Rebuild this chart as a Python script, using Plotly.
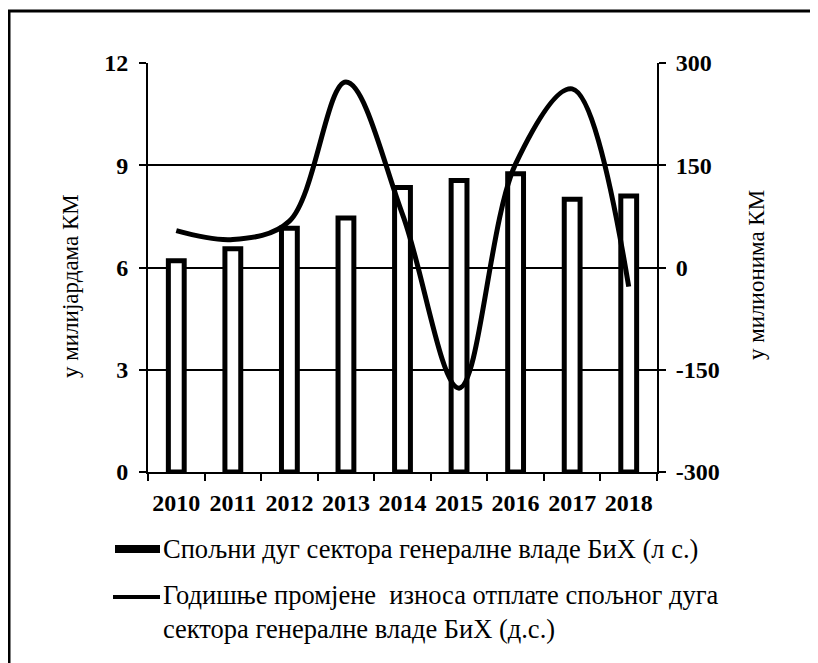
import plotly.graph_objects as go

years = ["2010", "2011", "2012", "2013", "2014", "2015", "2016", "2017", "2018"]
debt_bn = [6.2, 6.55, 7.15, 7.45, 8.35, 8.55, 8.75, 8.0, 8.1]
repay_change_mn = [54, 41, 68, 272, 78, -177, 152, 262, -28]

left_ticks = [0, 3, 6, 9, 12]
right_ticks = [-300, -150, 0, 150, 300]
right_tick_labels = ["-300", "-150", "0", "150", "300"]

legend_bar = "Спољни дуг сектора генералне владе БиХ (л с.)"
legend_line = "Годишње промјене  износа отплате спољног дуга<br>сектора генералне владе БиХ (д.с.)"
title_left = "у милијардама КМ"
title_right = "у милионима КМ"

# page body has an 8px margin; work in screen pixels and convert
OFF = 8
W, H = 818 - OFF, 663 - OFF
PL, PR, PT, PB = 148, 657, 63, 472  # plot area in screen px
L, R, T, B = PL - OFF, W - (PR - OFF), PT - OFF, H - (PB - OFF)
pw, ph = W - L - R, H - T - B

def px(x):
    return (x - OFF - L) / pw

def py(y):
    return (H - B - (y - OFF)) / ph

serif = "Liberation Serif, Times New Roman, serif"
tfont = dict(family=serif, size=24, color="black", weight="bold")
txtfont = dict(family=serif, size=26.5, color="black")
titlefont = dict(family=serif, size=23, color="black")

fig = go.Figure()
fig.add_trace(go.Bar(
    x=years, y=debt_bn, width=0.28,
    marker=dict(color="white", line=dict(color="black", width=5)),
    yaxis="y", showlegend=False,
))
fig.add_trace(go.Scatter(
    x=years, y=repay_change_mn, mode="lines",
    line=dict(color="black", width=5, shape="spline", smoothing=1.0),
    yaxis="y2", showlegend=False,
))

axis_common = dict(showline=True, linecolor="black", linewidth=2,
                   ticks="outside", ticklen=7, tickwidth=2, tickcolor="black",
                   zeroline=False, tickfont=tfont)

fig.update_layout(
    width=W, height=H,
    margin=dict(l=L, r=R, t=T, b=B, pad=0),
    paper_bgcolor="white", plot_bgcolor="white",
    xaxis=dict(type="category", tickson="boundaries", showgrid=False, tickangle=0,
               ticklabelstandoff=8, **axis_common),
    yaxis=dict(range=[0, 12], tickvals=left_ticks, showgrid=True, gridcolor="black",
               gridwidth=2, ticklabelstandoff=6, **axis_common),
    yaxis2=dict(range=[-300, 300], tickvals=right_ticks, ticktext=right_tick_labels,
                overlaying="y", side="right",
                showgrid=False, ticklabelstandoff=5, **axis_common),
)

# axis titles
fig.add_annotation(text=title_left, xref="paper", yref="paper", x=px(70), y=py(286),
                   textangle=-90, showarrow=False, xanchor="center", yanchor="middle",
                   font=titlefont)
fig.add_annotation(text=title_right, xref="paper", yref="paper", x=px(756), y=py(275),
                   textangle=-90, showarrow=False, xanchor="center", yanchor="middle",
                   font=titlefont)

# legend (manual)
fig.add_shape(type="rect", xref="paper", yref="paper", x0=px(115), x1=px(160),
              y0=py(553), y1=py(545), fillcolor="black", line=dict(width=0))
fig.add_annotation(text=legend_bar, xref="paper", yref="paper", x=px(161), y=py(549),
                   showarrow=False, xanchor="left", yanchor="middle", font=txtfont)
fig.add_shape(type="line", xref="paper", yref="paper", x0=px(113), x1=px(160),
              y0=py(597), y1=py(597), line=dict(color="black", width=4))
fig.add_annotation(text=legend_line, xref="paper", yref="paper", x=px(161), y=py(612),
                   showarrow=False, xanchor="left", yanchor="middle", align="left",
                   font=txtfont)

# outer frame
fig.add_shape(type="rect", xref="paper", yref="paper", x0=px(9), x1=px(840),
              y0=py(690), y1=py(11), line=dict(color="black", width=3),
              fillcolor="rgba(0,0,0,0)", layer="below")

fig.write_html("out.html")
